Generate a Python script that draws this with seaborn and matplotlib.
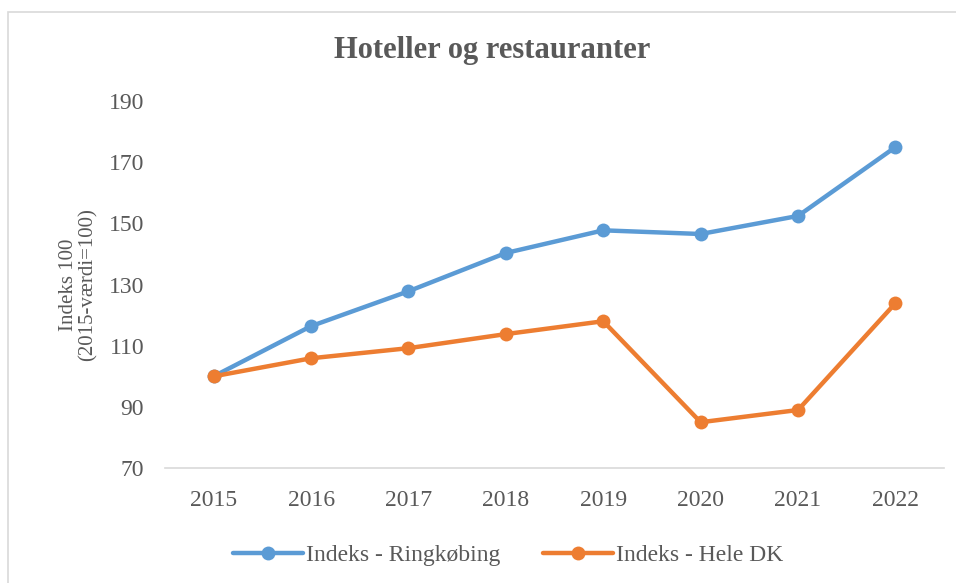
import matplotlib
matplotlib.use('Agg')

import matplotlib.pyplot as plt
import matplotlib.patches as patches
import seaborn as sns
import pandas as pd

years = ['2015', '2016', '2017', '2018', '2019', '2020', '2021', '2022']
ringkobing = [100, 116.4, 127.8, 140.3, 147.7, 146.5, 152.4, 174.9]
hele_dk = [100, 105.9, 109.2, 113.8, 118.0, 85.0, 89.0, 123.9]
series_names = ['Indeks - Ringkøbing', 'Indeks - Hele DK']
yticks = [70, 90, 110, 130, 150, 170, 190]

df = pd.DataFrame({
    'year': years * 2,
    'value': ringkobing + hele_dk,
    'series': [series_names[0]] * len(years) + [series_names[1]] * len(years),
})

sns.set_style('white')
plt.rcParams['font.family'] = ['Liberation Serif', 'DejaVu Serif']

text_color = '#595959'

fig = plt.figure(figsize=(9.56, 5.83), dpi=100)
ax = fig.add_axes([0.1726, 0.197, 0.815, 0.63])

sns.lineplot(
    data=df, x='year', y='value', hue='series',
    palette=['#5B9BD5', '#ED7D31'],
    marker='o', markersize=10, markeredgewidth=0,
    linewidth=3.2, sort=False, ax=ax
)

ax.set_xlim(-0.5, len(years) - 0.5)
ax.set_ylim(70, 190)
ax.set_yticks(yticks)
ax.tick_params(axis='both', length=0, labelsize=17, labelcolor=text_color)
ax.tick_params(axis='x', pad=16)
ax.tick_params(axis='y', pad=15)
for side in ['top', 'right', 'left']:
    ax.spines[side].set_visible(False)
ax.spines['bottom'].set_color('#D9D9D9')
ax.spines['bottom'].set_linewidth(1.2)

ax.set_xlabel('')
ax.set_ylabel('Indeks 100\n(2015-værdi=100)', fontsize=15, color=text_color,
              labelpad=8, linespacing=1.0)

fig.text(0.515, 0.913, 'Hoteller og restauranter', ha='center', va='center',
         fontsize=22, fontweight='bold', color=text_color)

ax.legend(loc='upper center', bbox_to_anchor=(0.44, -0.15), ncol=2,
          frameon=False, fontsize=17, labelcolor=text_color,
          handlelength=3, handletextpad=0.1, columnspacing=1.8)

fig.patches.append(patches.Rectangle((0.008, -0.01), 1.0, 0.99, transform=fig.transFigure,
                                     fill=False, edgecolor='#D9D9D9', linewidth=1.2))

fig.savefig('out.png', dpi=100)
